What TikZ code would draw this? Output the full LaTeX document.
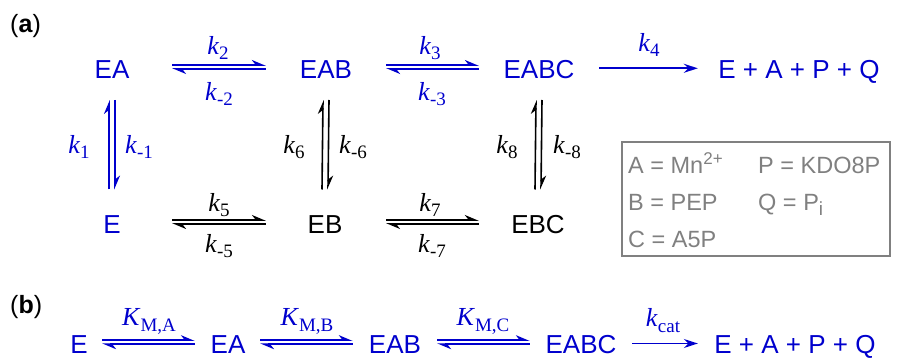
\documentclass[tikz,border=0pt]{standalone}
\usepackage{fontspec}
\setmainfont{Liberation Sans}
\newfontfamily\serifk{Liberation Serif}
\usetikzlibrary{arrows.meta}
\definecolor{kblue}{RGB}{0,0,205}
\definecolor{kgray}{RGB}{128,128,128}
\newcommand\kl[2]{{\serifk\fontsize{26}{26}\selectfont\textit{#1}\raisebox{-5.5pt}{\fontsize{19}{19}\selectfont #2}}}
\begin{document}
\begin{tikzpicture}[x=1pt,y=-1pt,
 sp/.style={inner sep=0pt, text height=18.6pt, text depth=0pt, font=\fontsize{26}{30}\selectfont},
 lab/.style={inner sep=0pt},
 keytxt/.style={inner sep=0pt, anchor=base west, text=kgray, font=\fontsize{23.5}{28}\selectfont},
 panel/.style={inner sep=0pt, anchor=base west, font=\fontsize{25}{30}\selectfont},
 hp/.style={line width=1.6pt, -{Stealth[harpoon,length=12pt,width=10pt]}},
 fw/.style={line width=1.6pt, -{Stealth[length=14pt,width=9pt]}},
]
\path[use as bounding box] (0,0) rectangle (898,358);

% panel labels
\node[panel] (pa) at (10,33) {(\textbf{a})};
\node[panel] (pb) at (10,314) {(\textbf{b})};

% panel (a) species
\node[sp,text=kblue] (EA) at (112,69.5) {EA};
\node[sp,text=kblue] (EAB) at (326,69.5) {EAB};
\node[sp,text=kblue] (EABC) at (539,69.5) {EABC};
\node[sp,text=kblue] (PR) at (799,69.5) {E + A + P + Q};
\node[sp,text=kblue] (E) at (112,224) {E};
\node[sp] (EB) at (325,224) {EB};
\node[sp] (EBC) at (538,224) {EBC};

% row 1 arrows
\draw[hp,kblue] ([xshift=42.6pt,yshift=4.5pt]EA.east) -- ([xshift=-34pt,yshift=4.5pt]EAB.west);
\draw[hp,kblue] ([xshift=-34pt,yshift=0.5pt]EAB.west) -- ([xshift=42.6pt,yshift=0.5pt]EA.east);
\draw[hp,kblue] ([xshift=34pt,yshift=4.5pt]EAB.east) -- ([xshift=-24.6pt,yshift=4.5pt]EABC.west);
\draw[hp,kblue] ([xshift=-24.6pt,yshift=0.5pt]EABC.west) -- ([xshift=34pt,yshift=0.5pt]EAB.east);
\draw[fw,kblue] ([xshift=24.6pt,yshift=1.2pt]EABC.east) -- ([xshift=-20.4pt,yshift=1.2pt]PR.west);

% row 2 arrows
\draw[hp] ([xshift=51.3pt,yshift=4pt]E.east) -- ([xshift=-41.6pt,yshift=4pt]EB.west);
\draw[hp] ([xshift=-41.6pt,yshift=0pt]EB.west) -- ([xshift=51.3pt,yshift=0pt]E.east);
\draw[hp] ([xshift=43.6pt,yshift=4pt]EB.east) -- ([xshift=-32.3pt,yshift=4pt]EBC.west);
\draw[hp] ([xshift=-32.3pt,yshift=0pt]EBC.west) -- ([xshift=43.6pt,yshift=0pt]EB.east);

% vertical arrows
\draw[hp,kblue] ([xshift=-3pt,yshift=25pt]E.north) -- ([xshift=-3pt,yshift=-21pt]EA.south);
\draw[hp,kblue] ([xshift=3pt,yshift=-21pt]EA.south) -- ([xshift=3pt,yshift=25pt]E.north);
\draw[hp] ([xshift=-3pt,yshift=25pt]EB.north) -- ([xshift=-3pt,yshift=-21pt]EAB.south);
\draw[hp] ([xshift=3pt,yshift=-21pt]EAB.south) -- ([xshift=3pt,yshift=25pt]EB.north);
\draw[hp] ([xshift=-3pt,yshift=25pt]EBC.north) -- ([xshift=-3pt,yshift=-21pt]EABC.south);
\draw[hp] ([xshift=3pt,yshift=-21pt]EABC.south) -- ([xshift=3pt,yshift=25pt]EBC.north);

% rate constant labels
\node[lab,text=kblue] (k2) at (218,48) {\kl{k}{2}};
\node[lab,text=kblue] (km2) at (219,94) {\kl{k}{-2}};
\node[lab,text=kblue] (k3) at (430,48) {\kl{k}{3}};
\node[lab,text=kblue] (km3) at (432,94) {\kl{k}{-3}};
\node[lab,text=kblue] (k4) at (649,45) {\kl{k}{4}};
\node[lab,text=kblue] (k1) at (79,147) {\kl{k}{1}};
\node[lab,text=kblue] (km1) at (139,147) {\kl{k}{-1}};
\node[lab] (k6) at (294,147) {\kl{k}{6}};
\node[lab] (km6) at (353,147) {\kl{k}{-6}};
\node[lab] (k8) at (507,147) {\kl{k}{8}};
\node[lab] (km8) at (567,147) {\kl{k}{-8}};
\node[lab] (k5) at (219,205) {\kl{k}{5}};
\node[lab] (km5) at (219,246) {\kl{k}{-5}};
\node[lab] (k7) at (430,205) {\kl{k}{7}};
\node[lab] (km7) at (432,246) {\kl{k}{-7}};

% legend box
\node[draw=kgray, line width=1.5pt, minimum width=268pt, minimum height=114pt, inner sep=0pt] (key) at (756,199) {};
\node[keytxt] (ka) at (628,173.4) {A = Mn\raisebox{8.5pt}{\fontsize{17}{17}\selectfont 2+}};
\node[keytxt] (kp) at (758,173.4) {P = KDO8P};
\node[keytxt] (kb) at (628,210.5) {B = PEP};
\node[keytxt] (kq) at (758,210.5) {Q = P\raisebox{-5pt}{\fontsize{19}{19}\selectfont i}};
\node[keytxt] (kc) at (628,248) {C = A5P};

% panel (b)
\node[sp,text=kblue] (Eb) at (79,344) {E};
\node[sp,text=kblue] (EAb) at (228,344) {EA};
\node[sp,text=kblue] (EABb) at (395,344) {EAB};
\node[sp,text=kblue] (EABCb) at (581,344) {EABC};
\node[sp,text=kblue] (PRb) at (795,344) {E + A + P + Q};

\draw[hp,kblue] ([xshift=14.3pt,yshift=3.8pt]Eb.east) -- ([xshift=-15.6pt,yshift=3.8pt]EAb.west);
\draw[hp,kblue] ([xshift=-15.6pt,yshift=-0.2pt]EAb.west) -- ([xshift=14.3pt,yshift=-0.2pt]Eb.east);
\draw[hp,kblue] ([xshift=14.6pt,yshift=3.8pt]EAb.east) -- ([xshift=-16pt,yshift=3.8pt]EABb.west);
\draw[hp,kblue] ([xshift=-16pt,yshift=-0.2pt]EABb.west) -- ([xshift=14.6pt,yshift=-0.2pt]EAb.east);
\draw[hp,kblue] ([xshift=16pt,yshift=3.8pt]EABb.east) -- ([xshift=-15.6pt,yshift=3.8pt]EABCb.west);
\draw[hp,kblue] ([xshift=-15.6pt,yshift=-0.2pt]EABCb.west) -- ([xshift=16pt,yshift=-0.2pt]EABb.east);
\draw[fw,kblue] ([xshift=15.6pt,yshift=0.5pt]EABCb.east) -- ([xshift=-16.4pt,yshift=0.5pt]PRb.west);

\node[lab,text=kblue] (KA) at (149,321.5) {\kl{K}{M,A}};
\node[lab,text=kblue] (KB) at (307,321.5) {\kl{K}{M,B}};
\node[lab,text=kblue] (KC) at (483,321.5) {\kl{K}{M,C}};
\node[lab,text=kblue] (kcat) at (663,320.5) {\kl{k}{cat}};
\end{tikzpicture}
\end{document}
